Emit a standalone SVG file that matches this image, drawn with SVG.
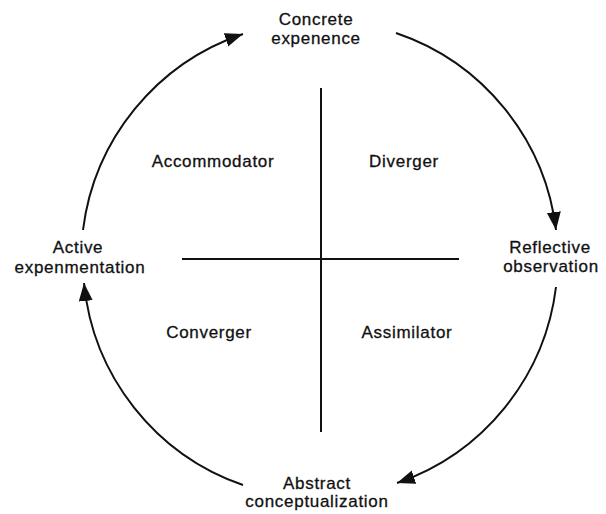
<svg xmlns="http://www.w3.org/2000/svg" width="606" height="514" viewBox="0 0 606 514">
<style>
text{font-family:"Liberation Sans",Arial,sans-serif;font-size:17px;letter-spacing:0.7px;fill:#111;stroke:#111;stroke-width:0.3;text-anchor:middle}
.arc{fill:none;stroke:#111;stroke-width:2}
.axis{stroke:#111;stroke-width:2}
</style>
<defs>
<marker id="ah" markerUnits="userSpaceOnUse" markerWidth="20" markerHeight="16" refX="18" refY="7" orient="auto">
<path d="M0,0 L18,7 L0,14 Z" fill="#111"/>
</marker>
</defs>
<rect width="606" height="514" fill="#fff"/>
<g id="connectors">
<path class="arc" d="M83,230 A238,238 0 0 1 243,34" marker-end="url(#ah)"/>
<path class="arc" d="M396,33 A238,238 0 0 1 556,230" marker-end="url(#ah)"/>
<path class="arc" d="M556,287 A238,238 0 0 1 397,483" marker-end="url(#ah)"/>
<path class="arc" d="M243,485 A238,238 0 0 1 84,283" marker-end="url(#ah)"/>
</g>
<g id="axes">
<line class="axis" x1="321" y1="88" x2="321" y2="432"/>
<line class="axis" x1="182" y1="259" x2="459" y2="259"/>
</g>
<g id="concrete-experience"><text x="316" y="25">Concrete</text><text x="316" y="44">expenence</text></g>
<g id="reflective-observation"><text x="550" y="253">Reflective</text><text x="551" y="272">observation</text></g>
<g id="abstract-conceptualization"><text x="317" y="489">Abstract</text><text x="317" y="507">conceptualization</text></g>
<g id="active-experimentation"><text x="78" y="253">Active</text><text x="80" y="273">expenmentation</text></g>
<g id="accommodator"><text x="213" y="167">Accommodator</text></g>
<g id="diverger"><text x="404" y="167">Diverger</text></g>
<g id="converger"><text x="209" y="338">Converger</text></g>
<g id="assimilator"><text x="407" y="338">Assimilator</text></g>
</svg>
